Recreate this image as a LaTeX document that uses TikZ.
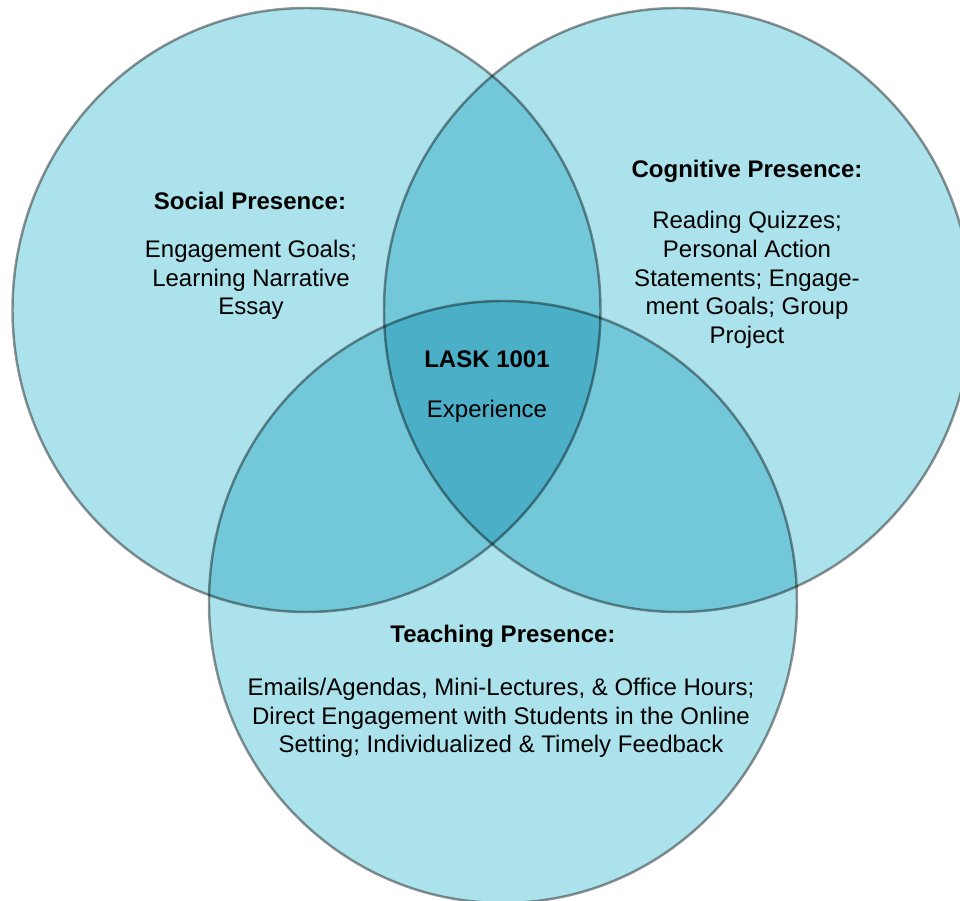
\documentclass[tikz,border=0pt]{standalone}
\definecolor{vennone}{RGB}{172,226,235}
\definecolor{venntwo}{RGB}{114,200,216}
\definecolor{vennthree}{RGB}{75,176,199}
\usepackage{fontspec}
\setmainfont{Liberation Sans}
\usepackage{tikz}

\newcommand{\vennfont}{\fontsize{6.83}{8.15}\selectfont}

\begin{document}
\begin{tikzpicture}[auto]

%
% Styles
%
\tikzstyle{ring}   = [draw=black,draw opacity=0.42,line width=0.7pt]
\tikzstyle{title}  = [font=\vennfont\bfseries,inner sep=0pt]
\tikzstyle{body}   = [font=\vennfont,align=center,inner sep=0pt]

\useasboundingbox (0,0) rectangle (9.6,-9.01);

\coordinate (social)    at (3.065,-3.10);
\coordinate (cognitive) at (6.78,-3.10);
\coordinate (teaching)  at (5.03,-6.02);

% single areas
\fill[vennone] (social) ellipse (2.94 and 3.02);
\fill[vennone] (cognitive) ellipse (2.94 and 3.02);
\fill[vennone] (teaching) ellipse (2.94 and 3.01);

% pairwise overlaps
\begin{scope}
  \clip (social) ellipse (2.94 and 3.02);
  \fill[venntwo] (cognitive) ellipse (2.94 and 3.02);
  \fill[venntwo] (teaching) ellipse (2.94 and 3.01);
\end{scope}
\begin{scope}
  \clip (cognitive) ellipse (2.94 and 3.02);
  \fill[venntwo] (teaching) ellipse (2.94 and 3.01);
\end{scope}

% middle
\begin{scope}
  \clip (social) ellipse (2.94 and 3.02);
  \clip (cognitive) ellipse (2.94 and 3.02);
  \fill[vennthree] (teaching) ellipse (2.94 and 3.01);
\end{scope}

\draw[ring] (social) ellipse (2.94 and 3.02);
\draw[ring] (cognitive) ellipse (2.94 and 3.02);
\draw[ring] (teaching) ellipse (2.94 and 3.01);

\node[title] (socialtitle) at (2.50,-2.01) {Social Presence:};
\node[body]  (socialtext)  at (2.51,-2.80) {Engagement Goals;\\Learning Narrative\\Essay};

\node[title] (cogtitle) at (7.47,-1.71) {Cognitive Presence:};
\node[body]  (cogtext)  at (7.47,-2.80) {Reading Quizzes;\\Personal Action\\Statements; Engage-\\ment Goals; Group\\Project};

\node[title] (lasktitle) at (4.87,-3.59) {LASK 1001};
\node[body]  (lasktext)  at (4.87,-4.11) {Experience};

\node[title] (teachtitle) at (5.03,-6.36) {Teaching Presence:};
\node[body]  (teachtext)  at (5.01,-7.18) {Emails/Agendas, Mini-Lectures, \& Office Hours;\\Direct Engagement with Students in the Online\\Setting; Individualized \& Timely Feedback};

\end{tikzpicture}
\end{document}
